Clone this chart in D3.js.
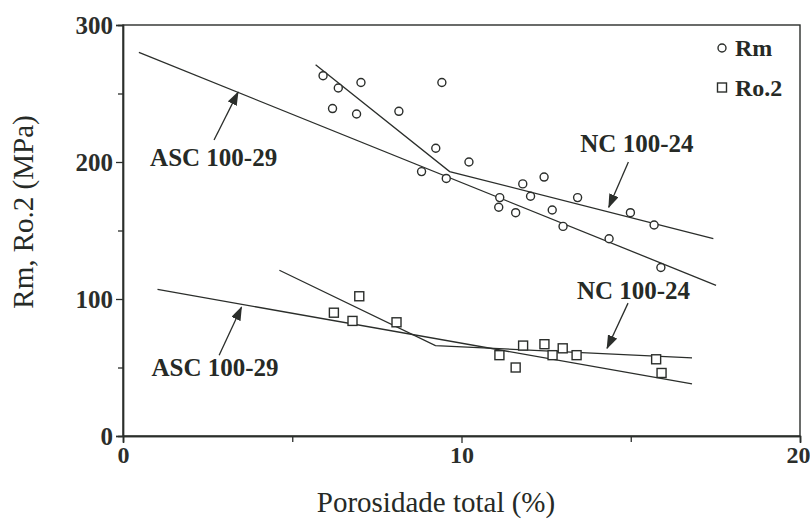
<!DOCTYPE html>
<html>
<head>
<meta charset='utf-8' />
<title>Rm, Ro.2 vs porosidade</title>
<script src="https://d3js.org/d3.v7.min.js"></script>
<style>
body { margin: 0; padding: 0; background: #fff; }
svg { display: block; }
text { font-family: "Liberation Serif", "Times New Roman", serif; fill: #262a26; }
.tick text { font-weight: bold; font-size: 25px; }
</style>
</head>
<body>
<div id="chart"></div>
<script>

// Rm points (circles): porosidade total (%), MPa
var rmX = [5.91, 6.36, 7.03, 6.19, 6.90, 8.15, 9.42, 9.24, 10.22, 8.82, 9.55, 11.13,
           11.10, 11.60, 11.81, 12.44, 12.04, 12.68, 13.43, 13.00, 14.36, 14.99, 15.69, 15.89];
var rmY = [263, 254, 258, 239, 235, 237, 258, 210, 200, 193, 188, 174,
           167, 163, 184, 189, 175, 165, 174, 153, 144, 163, 154, 123];

// Ro.2 points (squares)
var roX = [6.23, 6.78, 6.98, 8.08, 11.12, 11.60, 11.82, 12.45, 12.69, 12.99, 13.40, 15.75, 15.91];
var roY = [90, 84, 102, 83, 59, 50, 66, 67, 59, 64, 59, 56, 46];

// fitted lines
var ascRm = [[0.47, 280], [17.52, 110]];
var ncRm  = [[5.69, 271], [9.65, 193], [17.44, 144]];
var ascRo = [[1.02, 107], [16.81, 38]];
var ncRo  = [[4.62, 121], [9.23, 66], [16.81, 57]];

// labels + arrows: text pos, arrow tail, arrow tip
var labels = ["ASC 100-29", "NC 100-24", "ASC 100-29", "NC 100-24"];
var labelPos = [[0.80, 197], [13.51, 207], [0.84, 44], [13.41, 100]];
var arrowFrom = [[2.69, 216], [14.93, 200], [2.84, 59], [14.92, 97]];
var arrowTo = [[3.40, 251], [14.35, 167], [3.50, 94], [14.30, 64]];

var xMajor = [0, 10, 20], xMinor = [5, 15];
var yMajor = [0, 100, 200, 300], yMinor = [50, 150, 250];

var W = 810, H = 525;
var margin = {top: 25, right: 10, bottom: 89, left: 123};
var width = W - margin.left - margin.right,
    height = H - margin.top - margin.bottom;
var ink = "#2b2e2b";

var svg = d3.select("#chart").append("svg")
    .attr("width", W).attr("height", H)
  .append("g")
    .attr("transform", "translate(" + margin.left + "," + margin.top + ")");

var x = d3.scaleLinear().domain([0, 20]).range([0, width]);
var y = d3.scaleLinear().domain([0, 300]).range([height, 0]);

// frame
svg.append("rect")
  .attr("width", width).attr("height", height)
  .attr("fill", "none").attr("stroke", ink).attr("stroke-width", 1.4);

// axes
var xAxis = svg.append("g")
  .attr("transform", "translate(0," + height + ")")
  .call(d3.axisBottom(x).tickValues(xMajor).tickSize(7).tickFormat(d3.format("d")));
xAxis.selectAll(".tick text")
  .attr("y", 27).attr("dy", 0)
  .style("font-size", "24px")
  .attr("dx", function(d) { return d === 20 ? -2 : 0; });
svg.append("g")
  .attr("transform", "translate(0," + height + ")")
  .call(d3.axisBottom(x).tickValues(xMinor).tickSize(6).tickFormat(""));

var yAxis = svg.append("g")
  .call(d3.axisLeft(y).tickValues(yMajor).tickSize(7).tickPadding(3));
yAxis.selectAll(".tick text").attr("dy", "0.34em");
svg.append("g")
  .call(d3.axisLeft(y).tickValues(yMinor).tickSize(5).tickFormat(""));

svg.selectAll(".domain").attr("stroke", ink).attr("stroke-width", 1.4);
svg.selectAll(".tick line").attr("stroke", ink).attr("stroke-width", 1.3);
svg.selectAll(".tick text").style("fill", ink);

// axis titles
svg.append("text")
  .attr("x", (316 + 556) / 2 - margin.left)
  .attr("y", 512 - margin.top)
  .attr("text-anchor", "middle")
  .style("font-size", "29px")
  .text("Porosidade total (%)");

svg.append("text")
  .attr("transform", "translate(" + (33 - margin.left) + "," + (212 - margin.top) + ") rotate(-90)")
  .attr("text-anchor", "middle")
  .style("font-size", "29px")
  .text("Rm, Ro.2 (MPa)");

// fit lines
var line = d3.line().x(function(d) { return x(d[0]); }).y(function(d) { return y(d[1]); });
[ascRm, ncRm, ascRo, ncRo].forEach(function(l) {
  svg.append("path")
    .attr("d", line(l))
    .attr("fill", "none")
    .attr("stroke", ink)
    .attr("stroke-width", 1.3);
});

// points
svg.selectAll("circle.rm")
  .data(rmX)
  .enter()
  .append("circle")
    .attr("class", "rm")
    .attr("cx", function(d) { return x(d); })
    .attr("cy", function(d, i) { return y(rmY[i]); })
    .attr("r", 4)
    .attr("fill", "#fff")
    .attr("stroke", ink)
    .attr("stroke-width", 1.4);

svg.selectAll("rect.ro")
  .data(roX)
  .enter()
  .append("rect")
    .attr("class", "ro")
    .attr("x", function(d) { return x(d) - 4.5; })
    .attr("y", function(d, i) { return y(roY[i]) - 4.5; })
    .attr("width", 9)
    .attr("height", 9)
    .attr("fill", "#fff")
    .attr("stroke", ink)
    .attr("stroke-width", 1.4);

// arrows
svg.append("defs").append("marker")
  .attr("id", "head")
  .attr("markerUnits", "userSpaceOnUse")
  .attr("viewBox", "0 0 14 10")
  .attr("refX", 13).attr("refY", 5)
  .attr("markerWidth", 14).attr("markerHeight", 10)
  .attr("orient", "auto")
  .append("path")
    .attr("d", "M0,0 L14,5 L0,10 Z")
    .attr("fill", ink);

labels.forEach(function(t, i) {
  svg.append("line")
    .attr("x1", x(arrowFrom[i][0])).attr("y1", y(arrowFrom[i][1]))
    .attr("x2", x(arrowTo[i][0])).attr("y2", y(arrowTo[i][1]))
    .attr("stroke", ink)
    .attr("stroke-width", 1.3)
    .attr("marker-end", "url(#head)");
  svg.append("text")
    .attr("x", x(labelPos[i][0]))
    .attr("y", y(labelPos[i][1]))
    .style("font-size", "25px")
    .style("font-weight", "bold")
    .text(t);
});

// legend
var legend = svg.append("g").attr("transform", "translate(" + (722 - margin.left) + "," + (48 - margin.top) + ")");
legend.append("circle").attr("r", 4).attr("fill", "#fff").attr("stroke", ink).attr("stroke-width", 1.4);
legend.append("text").attr("x", 13).attr("y", 8).style("font-size", "24px").style("font-weight", "bold").text("Rm");
legend.append("rect").attr("x", -4.5).attr("y", 35).attr("width", 9).attr("height", 9)
  .attr("fill", "#fff").attr("stroke", ink).attr("stroke-width", 1.4);
legend.append("text").attr("x", 13).attr("y", 48).style("font-size", "24px").style("font-weight", "bold").text("Ro.2");

</script>
</body>
</html>
